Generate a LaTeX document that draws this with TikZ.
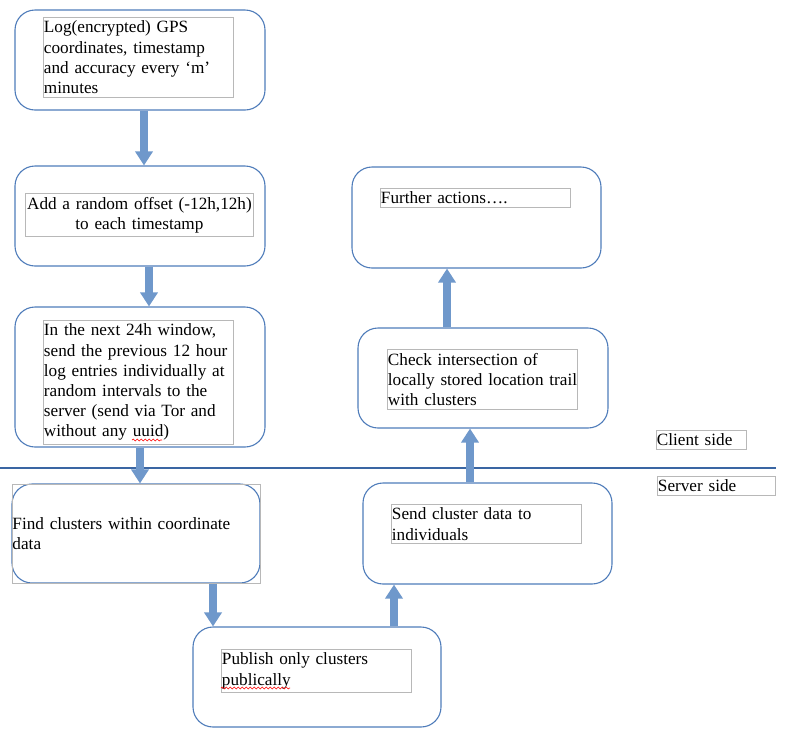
\documentclass[tikz,border=0pt]{standalone}
\usepackage{fontspec}
\setmainfont{Liberation Serif}
\usetikzlibrary{arrows.meta,decorations.pathmorphing}

\definecolor{boxblue}{HTML}{4F7CBA}
\definecolor{arrowblue}{HTML}{6F98CB}
\definecolor{framegray}{HTML}{B8B8B8}
\definecolor{lineblue}{HTML}{3A66A3}

\tikzset{
  stage/.style={draw=boxblue, line width=1.1pt, rounded corners=20pt},
  textframe/.style={draw=framegray, line width=0.9pt, anchor=north west, align=left,
    inner xsep=0.5pt, inner ysep=3.5pt, text width=189pt,
    font=\fontsize{17.2}{20.2}\selectfont,
    execute at begin node={\hyphenpenalty=10000\relax}},
  blockarrow/.style={draw=arrowblue, line width=8pt, -{Triangle[length=14pt,width=17pt]}},
  spell/.style={red, line width=0.6pt, decorate,
    decoration={snake, amplitude=0.9pt, segment length=4pt}}
}

\begin{document}
\begin{tikzpicture}[x=1pt, y=-1pt]
            \useasboundingbox (0,0) rectangle (791,745);

            % Draw the boxes
            \node[stage, minimum width=250pt, minimum height=100pt] (log) at (140,60) {};
            \node[stage, minimum width=250pt, minimum height=100pt] (offset) at (140,216) {};
            \node[stage, minimum width=250pt, minimum height=140pt] (send) at (140,377) {};
            \node[stage, minimum width=248pt, minimum height=99pt] (find) at (136,533.5) {};
            \node[stage, minimum width=248pt, minimum height=100pt] (publish) at (317,677) {};
            \node[stage, minimum width=249pt, minimum height=101pt] (cluster) at (487.5,533.5) {};
            \node[stage, minimum width=250pt, minimum height=100pt] (check) at (483,378) {};
            \node[stage, minimum width=249pt, minimum height=101pt] (further) at (476.5,217.5) {};

            % Place the texts
            \node[textframe] (logtxt) at (43,17) {Log(encrypted) GPS\\ coordinates, timestamp\\ and accuracy every ‘m’\\ minutes};
            \node[textframe, text width=227pt, align=center] (offsettxt) at (25,193) {Add a random offset (-12h,12h)\\ to each timestamp};
            \node[textframe] (sendtxt) at (43,320) {In the next 24h window,\\ send the previous 12 hour\\ log entries individually at\\ random intervals to the\\ server (send via Tor and\\ without any uuid)};
            \node[textframe, anchor=center, text width=247pt, minimum height=99pt, inner ysep=0pt] (findtxt) at (136,533.5) {Find clusters within coordinate\\ data};
            \node[textframe] (publishtxt) at (221,649) {Publish only clusters\\ publically};
            \node[textframe] (clustertxt) at (391,504) {Send cluster data to\\ individuals};
            \node[textframe] (checktxt) at (387,349) {Check intersection of\\ \mbox{locally stored location trail}\\ with clusters};
            \node[textframe] (furthertxt) at (380,188) {Further actions….};
            \node[textframe, text width=89pt] (client) at (656,430) {Client side};
            \node[textframe, text width=117pt] (server) at (657,476) {Server side};

            % Spelling marks
            \draw[spell] (132,440) -- (162,440);
            \draw[spell] (221,688) -- (290,688);

            % Client / server divider
            \coordinate (divl) at (0,468);
            \coordinate (divr) at (776,468);
            \draw[lineblue, line width=1.2pt] (divl) -- (divr);

            % Draw the arrows
            \draw[blockarrow] ([xshift=4pt]log.south) -- ([xshift=4pt]offset.north);
            \draw[blockarrow] ([xshift=9pt]offset.south) -- ([xshift=9pt]send.north);
            \draw[blockarrow] (send.south) -- ([xshift=4pt]find.north);
            \draw[blockarrow] ([xshift=77pt]find.south) -- ([xshift=-104pt]publish.north);
            \draw[blockarrow] ([xshift=77pt]publish.north) -- ([xshift=-93.5pt]cluster.south);
            \draw[blockarrow] ([xshift=-17.5pt]cluster.north) -- ([xshift=-13pt]check.south);
            \draw[blockarrow] ([xshift=-36pt]check.north) -- ([xshift=-29.5pt]further.south);
        \end{tikzpicture}
\end{document}
